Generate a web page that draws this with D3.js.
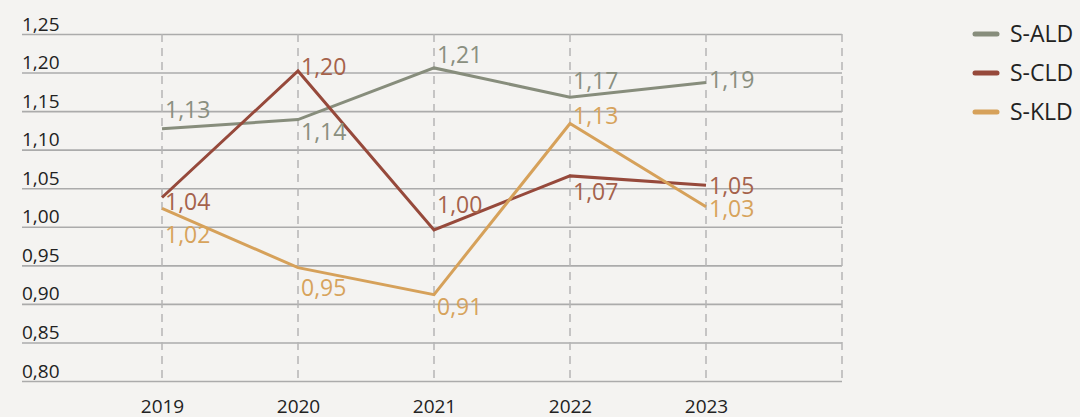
<!DOCTYPE html>
<html>
<head>
<meta charset="utf-8">
<script src="https://cdn.jsdelivr.net/npm/d3@7"></script>
<style>
  body { margin: 0; background: #f4f3f1; }
  svg { display: block; font-family: "Open Sans", sans-serif; }
</style>
</head>
<body>
<div class="container"></div>
<script>
const years = ["2019", "2020", "2021", "2022", "2023"];
const seriesNames = ["S-ALD", "S-CLD", "S-KLD"];
const ald = [1.127, 1.139, 1.206, 1.168, 1.187];
const cld = [1.038, 1.202, 0.996, 1.066, 1.054];
const kld = [1.024, 0.947, 0.912, 1.134, 1.026];
const yTicks = [0.8, 0.85, 0.9, 0.95, 1.0, 1.05, 1.1, 1.15, 1.2, 1.25];

// label baseline offsets from the point (picked by eye)
const labelDy = [
  [-11, 20, -5, -8, 5],
  [13, 4, -17, 24, 9],
  [35, 28, 20, 1, 10],
];

const lineColors = ["#878d7c", "#96493b", "#d6a15a"];
const labelColors = ["#8a8f80", "#a5624b", "#d7a35c"];

const width = 1080;
const height = 417;
const fmt = (v) => v.toFixed(2).replace(".", ",");

const svg = d3
  .select(".container")
  .append("svg")
  .attr("width", width)
  .attr("height", height);

const xScale = d3.scalePoint().domain(years).range([162, 706]);
const yScale = d3.scaleLinear().domain([0.8, 1.25]).range([381, 34]);

// horizontal grid + tick labels
const yAxis = d3
  .axisLeft(yScale)
  .tickValues(yTicks)
  .tickSize(-820)
  .tickFormat(fmt);

const yG = svg.append("g").attr("transform", "translate(22,0)").call(yAxis);
yG.select(".domain").remove();
yG.selectAll(".tick line")
  .attr("stroke", "#ababab")
  .attr("stroke-width", 1.6);
yG.selectAll(".tick text")
  .attr("x", 0)
  .attr("y", -4)
  .attr("dy", 0)
  .attr("text-anchor", "start")
  .attr("fill", "#222")
  .attr("font-size", 19)
  .attr("font-family", "Open Sans");

// vertical dashed lines
const vx = years.map((d) => xScale(d)).concat([842]);
svg
  .append("g")
  .selectAll("line")
  .data(vx)
  .enter()
  .append("line")
  .attr("x1", (d) => d)
  .attr("x2", (d) => d)
  .attr("y1", yScale(1.25))
  .attr("y2", yScale(0.8))
  .attr("stroke", "#b5b5b5")
  .attr("stroke-width", 1.5)
  .attr("stroke-dasharray", "8,6");

// x axis labels
const xAxis = d3.axisBottom(xScale).tickSize(0);
const xG = svg.append("g").attr("transform", "translate(0,381)").call(xAxis);
xG.select(".domain").remove();
xG.selectAll(".tick text")
  .attr("y", 32)
  .attr("dy", 0)
  .attr("fill", "#222")
  .attr("font-size", 19)
  .attr("font-family", "Open Sans");

const series = [ald, cld, kld];
const line = d3
  .line()
  .x((d, i) => xScale(years[i]))
  .y((d) => yScale(d));

series.forEach((vals, s) => {
  svg
    .append("path")
    .datum(vals)
    .attr("d", line)
    .attr("fill", "none")
    .attr("stroke", lineColors[s])
    .attr("stroke-width", 3)
    .attr("stroke-linejoin", "miter");
});

series.forEach((vals, s) => {
  svg
    .append("g")
    .selectAll("text")
    .data(vals)
    .enter()
    .append("text")
    .attr("x", (d, i) => xScale(years[i]) + 3)
    .attr("y", (d, i) => yScale(d) + labelDy[s][i])
    .attr("fill", labelColors[s])
    .attr("font-size", 23)
    .text(fmt);
});

// legend
const legend = svg
  .append("g")
  .selectAll("g")
  .data(seriesNames)
  .enter()
  .append("g")
  .attr("transform", (d, i) => `translate(975,${34 + i * 39})`);

legend
  .append("line")
  .attr("x1", 0)
  .attr("x2", 22)
  .attr("stroke", (d, i) => lineColors[i])
  .attr("stroke-width", 5)
  .attr("stroke-linecap", "round");

legend
  .append("text")
  .attr("x", 35)
  .attr("y", 8)
  .attr("fill", "#222")
  .attr("font-size", 23)
  .text((d) => d);
</script>
</body>
</html>
